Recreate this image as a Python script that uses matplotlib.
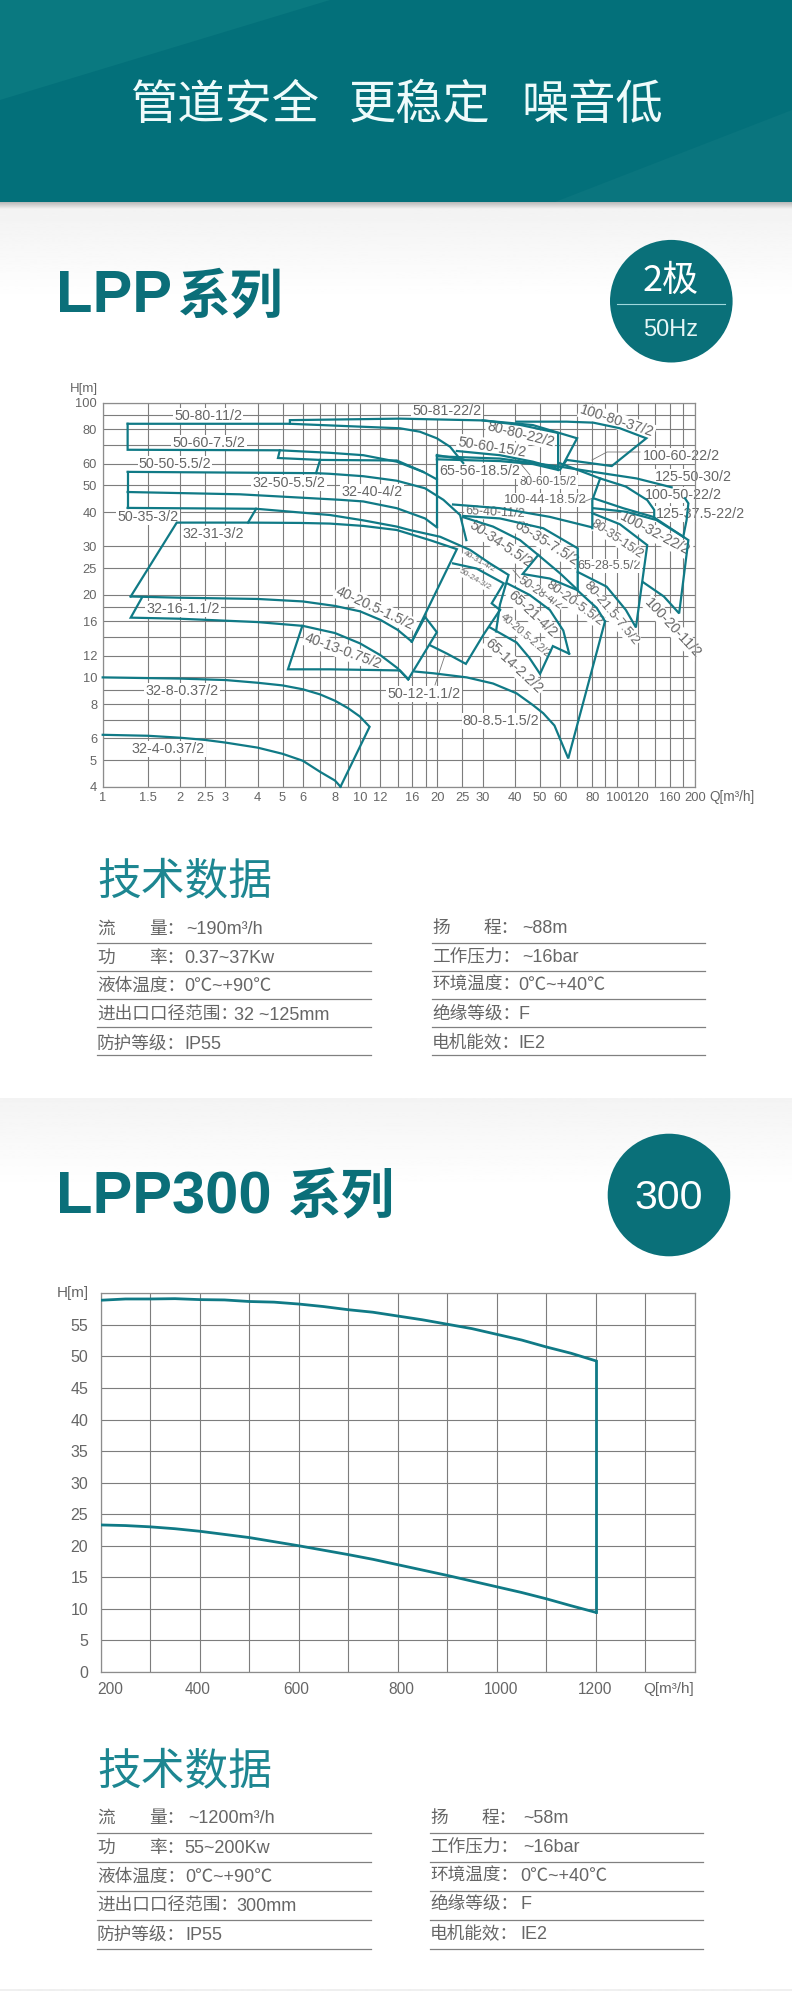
import numpy as np
import matplotlib
matplotlib.use("Agg")
import matplotlib.pyplot as plt
from matplotlib.patches import Circle, Polygon
from matplotlib.ticker import NullLocator
from matplotlib.transforms import ScaledTranslation

plt.rcParams['font.family'] = ['Liberation Sans', 'Noto Sans CJK SC', 'DejaVu Sans']

TEAL = '#107a86'
GRID = '#7d7d7d'
TEXT = '#666666'
CJK = ['Noto Sans CJK SC', 'Liberation Sans']

# first chart, log axes
q_grid = [1, 1.5, 2, 2.5, 3, 4, 5, 6, 7, 8, 9, 10, 12, 14, 16, 18, 20, 25, 30, 40, 50, 60, 70, 80, 90,
          100, 120, 140, 160, 180, 200]
q_ticks = [1, 1.5, 2, 2.5, 3, 4, 5, 6, 8, 10, 12, 16, 20, 25, 30, 40, 50, 60, 80, 100, 120, 160, 200]
h_grid = [4, 5, 6, 7, 8, 9, 10, 12, 14, 16, 18, 20, 25, 30, 40, 50, 60, 70, 80, 90, 100]
h_ticks = [4, 5, 6, 8, 10, 12, 16, 20, 25, 30, 40, 50, 60, 80, 100]

q_a1 = [1.25, 5.34, 14.3, 17.1, 19.9, 22.4, 25.2]
h_a1 = [83.8, 83.8, 80.7, 78.4, 74.2, 69.1, 60.3]
q_a2 = [1.25, 1.25, 4.88, 7.65, 10.3, 13.9, 17.6, 19.9]
h_a2 = [83.8, 67.4, 67.1, 65.7, 64.4, 61, 56, 52.6]
q_a3 = [4.88, 4.8, 7, 13.9, 17.6]
h_a3 = [67.1, 62.9, 61.9, 61.6, 56]
q_a4 = [7, 6.75]
h_a4 = [61.9, 55.4]
q_b1 = [1.25, 6.75, 7.65, 10.3, 13.9, 17.9, 21.1, 24.5, 25.9]
h_b1 = [56, 55.4, 55.1, 54, 52, 48.8, 44.3, 39, 31.6]
q_b2 = [1.25, 1.25]
h_b2 = [56, 41.4]
q_b3 = [19.9, 19.9]
h_b3 = [64.4, 35.2]
q_b4 = [1.25, 3.41, 8.4, 10.3, 13.9, 17.9, 19.9]
h_b4 = [47.3, 46.4, 44.3, 43.7, 41.3, 37.9, 35.2]
q_b5 = [1.25, 3.95, 7.65, 10.3, 13.9, 15.6, 20.5, 26.8, 32, 37.8, 35, 33.8]
h_b5 = [41.4, 41.1, 39, 37.3, 35.4, 34.4, 32.5, 29.1, 26, 23.6, 18.4, 14.7]
q_c1 = [1.285, 1.94, 3.67, 5.85, 7.65, 10.3, 13.9, 18.7, 23.8, 15.9]
h_c1 = [19.7, 36.6, 36.6, 36.5, 36.3, 35.6, 34.4, 31.6, 29.3, 13.5]
q_c2 = [3.67, 3.95]
h_c2 = [36.6, 41.1]
q_d1 = [1.285, 2, 4, 6, 8, 10, 12, 14, 15.9]
h_d1 = [19.7, 19.5, 19.3, 18.9, 18.2, 17.4, 16.2, 14.9, 13.5]
q_d2 = [1.42, 1.285, 2, 4, 6, 8, 10, 12, 14, 15.4]
h_d2 = [19.5, 16.5, 16.35, 15.9, 15.4, 14.5, 13.3, 12.05, 10.8, 9.84]
q_d3 = [5.97, 5.25, 7.65, 14.3, 15.4]
h_d3 = [15.4, 10.7, 10.7, 10.6, 9.84]
q_e1 = [1, 2, 3, 4, 5, 6, 7, 8, 9, 10, 10.9, 8.4]
h_e1 = [10, 9.9, 9.78, 9.56, 9.35, 9.05, 8.67, 8.22, 7.72, 7.2, 6.61, 4]
q_e2 = [1, 1.5, 2, 2.5, 3, 4, 5, 6, 7, 8, 8.4]
h_e2 = [6.18, 6.13, 6.03, 5.92, 5.79, 5.55, 5.27, 4.97, 4.53, 4.21, 4]
q_f1 = [15.9, 17.9, 19.9, 15.4]
h_f1 = [13.5, 16.6, 14.6, 9.84]
q_f2 = [18.7, 21.8, 25.8, 30.2, 35]
h_f2 = [13.1, 12.2, 11.2, 14.3, 17.6]
q_g1 = [16.4, 19.3, 26, 32.9, 40.6, 47, 51.6, 57, 61, 64.5, 89.6]
h_g1 = [10.5, 10.35, 10, 9.5, 8.75, 7.93, 7.4, 6.68, 5.74, 5.07, 16]
q_g2 = [32, 40.6, 45.5, 50.1, 56.2, 65]
h_g2 = [15.2, 13.4, 11.8, 10.3, 13, 12.2]
q_g3 = [37.3, 45.7, 54.7, 61.7, 65]
h_g3 = [22, 19.95, 17.6, 14.8, 12.2]
q_g4 = [23, 28.4, 36.2, 32.5, 35]
h_g4 = [26, 24.9, 22, 18.6, 17.6]
q_h1 = [25.2, 32.9, 41.9, 49.3, 60, 70.2]
h_h1 = [38.3, 35.4, 31.6, 27.9, 23.9, 20.8]
q_h2 = [49.3, 42.9, 54.7, 69.8, 83.2, 89.6]
h_h2 = [27.9, 23.8, 22.9, 20.8, 17.9, 16]
q_h3 = [25.2, 35, 51.6, 70.2, 70.2]
h_h3 = [38.7, 37.9, 34.9, 29.5, 20.8]
q_h4 = [23, 35, 54.7, 79.6]
h_h4 = [42.6, 41.3, 38.4, 35.2]
q_i1 = [70.2, 90.9, 108, 118.2, 130.8, 102.4, 80]
h_i1 = [24.2, 21.4, 17.6, 15.2, 30.3, 36.1, 39.6]
q_i2 = [85.8, 80, 80]
h_i2 = [53, 44.2, 34.9]
q_i3 = [59.9, 85.8, 108, 130.8, 139.2, 139.2]
h_i3 = [60.2, 53, 49.5, 44.2, 40.7, 38.4]
q_i4 = [80.7, 105.5, 138, 189, 174, 151.8, 126.1]
h_i4 = [44.9, 41.3, 38.4, 31.6, 17.1, 19.7, 22.2]
q_i5 = [80.7, 108, 142, 180.5]
h_i5 = [41.3, 40.1, 37.4, 32.5]
q_i6 = [59.9, 80.7, 118.9, 162.7]
h_i6 = [58.5, 56, 53, 49.2]
q_i7 = [183.3, 189, 186, 180.5]
h_i7 = [44.9, 43, 37.4, 32.5]
q_j1 = [40.6, 63.6, 80.7, 102.4, 129.7, 95.2, 63.6, 59.9]
h_j1 = [85.3, 85.3, 84.6, 80.7, 74.2, 58.8, 61.9, 57]
q_j2 = [30, 47, 69.8, 61]
h_j2 = [86.2, 82.9, 74.2, 58.5]
q_j3 = [5.34, 5.34, 14.3, 30, 41.9, 58.9, 58.9]
h_j3 = [83.8, 86.4, 87.5, 86.2, 83, 77.6, 56.9]
q_j4 = [19.9, 35, 47, 58.9]
h_j4 = [62.2, 61.3, 59.8, 56.9]
q_j5 = [19.9, 25.2]
h_j5 = [64.4, 62.2]
q_j6 = [23.8, 35, 47, 58]
h_j6 = [66.7, 64.4, 61, 57.7]
q_j7 = [19.9, 35, 59.9]
h_j7 = [63.8, 62.6, 58.5]

curves_a = [(q_a1, h_a1), (q_a2, h_a2), (q_a3, h_a3), (q_a4, h_a4), (q_b1, h_b1), (q_b2, h_b2), (q_b3, h_b3),
            (q_b4, h_b4), (q_b5, h_b5), (q_c1, h_c1), (q_c2, h_c2), (q_d1, h_d1), (q_d2, h_d2), (q_d3, h_d3),
            (q_e1, h_e1), (q_e2, h_e2), (q_f1, h_f1), (q_f2, h_f2), (q_g1, h_g1), (q_g2, h_g2), (q_g3, h_g3),
            (q_g4, h_g4), (q_h1, h_h1), (q_h2, h_h2), (q_h3, h_h3), (q_h4, h_h4), (q_i1, h_i1), (q_i2, h_i2),
            (q_i3, h_i3), (q_i4, h_i4), (q_i5, h_i5), (q_i6, h_i6), (q_i7, h_i7), (q_j1, h_j1), (q_j2, h_j2),
            (q_j3, h_j3), (q_j4, h_j4), (q_j5, h_j5), (q_j6, h_j6), (q_j7, h_j7)]

# pump labels: text, x px, y px, rotation, size
pump_labels = [
    ('50-80-11/2', 208, 416, 0, 10.3), ('50-60-7.5/2', 209, 443, 0, 10.3), ('50-50-5.5/2', 175, 464, 0, 10.3),
    ('32-50-5.5/2', 289, 483, 0, 10.3), ('32-40-4/2', 372, 492, 0, 10.3), ('50-35-3/2', 148, 517, 0, 10.3),
    ('32-31-3/2', 213, 534, 0, 10.3), ('32-16-1.1/2', 183, 609, 0, 10.3), ('32-8-0.37/2', 182, 691, 0, 10.3),
    ('32-4-0.37/2', 168, 749, 0, 10.3), ('40-13-0.75/2', 343, 651, -20, 10.3),
    ('40-20.5-1.5/2', 375, 608, -25, 10.3), ('50-12-1.1/2', 424, 694, 0, 10.3), ('80-8.5-1.5/2', 501, 721, 0, 10.3),
    ('65-14-2.2/2', 514, 666, -43, 10.3), ('40-20.5-2.2/2', 525, 636, -40, 7.5), ('65-21-4/2', 532, 614, -43, 10.3),
    ('50-28-4/2', 540, 593, -33, 8.5), ('80-20-5.5/2', 575, 604, -36, 9.5), ('80-21.5-7.5/2', 611, 613, -50, 9.5),
    ('100-20-11/2', 673, 628, -47, 10.3), ('65-28-5.5/2', 609, 566, 0, 9), ('100-32-22/2', 655, 534, -28, 10.3),
    ('80-35-15/2', 617, 539, -34, 9), ('65-35-7.5/2', 546, 543, -32, 10.3), ('50-34-5.5/2', 501, 544, -34, 10.3),
    ('40-31-4/2', 479, 562, -30, 6), ('50-24-3/2', 475, 580, -30, 6), ('65-40-11/2', 495, 513, -3, 9),
    ('100-44-18.5/2', 545, 500, 0, 9.5), ('80-60-15/2', 548, 482, 0, 8.5), ('65-56-18.5/2', 480, 471, 0, 10.3),
    ('50-60-15/2', 492, 447, -9, 10.3), ('80-80-22/2', 521, 434, -14, 10.3), ('50-81-22/2', 447, 411, 0, 10.3),
    ('100-80-37/2', 617, 421, -18, 10.3), ('100-60-22/2', 681, 456, 0, 10.3), ('125-50-30/2', 693, 477, 0, 10.3),
    ('100-50-22/2', 683, 495, 0, 10.3), ('125-37.5-22/2', 700, 514, 0, 10.3),
]
leaders = [
    ([592, 607, 640], [460, 452, 452]),
    ([520, 530], [463, 475]),
    ([583, 593], [502, 498]),
    ([445, 435], [655, 685]),
    ([513, 520], [570, 578]),
]

# second chart
q_300 = [200, 250, 300, 350, 400, 450, 500, 550, 600, 650, 700, 750, 800, 850, 900, 950, 1000, 1050, 1100, 1150, 1200]
h_300_top = [58.9, 59.1, 59.1, 59.15, 59, 58.95, 58.7, 58.6, 58.3, 57.9, 57.4, 57, 56.4, 55.8, 55.1, 54.4, 53.5,
             52.6, 51.5, 50.5, 49.3]
h_300_low = [23.3, 23.2, 23, 22.7, 22.3, 21.8, 21.3, 20.65, 20, 19.3, 18.6, 17.85, 17, 16.15, 15.3, 14.4, 13.5,
             12.6, 11.6, 10.5, 9.45]
q_300_grid = [200, 300, 400, 500, 600, 700, 800, 900, 1000, 1100, 1200, 1300, 1400]
q_300_ticks = [200, 400, 600, 800, 1000, 1200]
q_300_shift = [9, -2, -3, 4, 4, -1]
h_300_grid = [0, 5, 10, 15, 20, 25, 30, 35, 40, 45, 50, 55, 60]
h_300_ticks = [0, 5, 10, 15, 20, 25, 30, 35, 40, 45, 50, 55]

spec_left_1 = ['~190m³/h', '0.37~37Kw', '0℃~+90℃', '32 ~125mm', 'IP55']
spec_right_1 = ['~88m', '~16bar', '0℃~+40℃', 'F', 'IE2']
spec_left_2 = ['~1200m³/h', '55~200Kw', '0℃~+90℃', '300mm', 'IP55']
spec_right_2 = ['~58m', '~16bar', '0℃~+40℃', 'F', 'IE2']
names_left = ['流', '功', '液体温度：', '进出口口径范围：', '防护等级：']
names_left_b = ['量：', '率：', '', '', '']
names_right = ['扬', '工作压力：', '环境温度：', '绝缘等级：', '电机能效：']
names_right_b = ['程：', '', '', '', '']

fig = plt.figure(figsize=(7.92, 19.91), dpi=100)
W, H = 792, 1991

bg = fig.add_axes([0, 0, 1, 1])
bg.set_axis_off()


def vgrad(y0, y1, c0, c1):
    g = np.linspace(c0, c1, 64).reshape(-1, 1)
    bg.imshow(g, extent=[0, W, y1, y0], cmap='gray', vmin=0, vmax=1, aspect='auto', zorder=0)


vgrad(202, 209, 0.72, 0.95)
vgrad(209, 300, 0.95, 1.0)
vgrad(1098, 1190, 0.955, 1.0)
vgrad(1989, 1991, 0.94, 0.94)
bg.set_xlim(0, W)
bg.set_ylim(H, 0)

bg.add_patch(Polygon([[0, 0], [W, 0], [W, 202], [0, 202]], fc='#03707a', ec='none', zorder=1))
bg.add_patch(Polygon([[0, 0], [330, 0], [0, 100]], fc='#0a7980', ec='none', zorder=1))
bg.add_patch(Polygon([[555, 202], [W, 110], [W, 202]], fc='#0a757e', ec='none', zorder=1))


def put(x, y, s, size, color=TEXT, ha='left', weight='normal', family=None):
    bg.text(x, y, s, fontsize=size, color=color, ha=ha, va='center', weight=weight,
            family=family if family else plt.rcParams['font.family'], zorder=3)


for x, s in [(225, '管道安全'), (420, '更稳定'), (592, '噪音低')]:
    put(x, 106, s, 34, color='#eefbfb', ha='center', family=CJK)

put(56, 297, 'LPP', 43, color='#0b6f79', weight='bold')
put(178, 297, '系列', 38, color='#0b6f79', weight='bold', family=CJK)
put(56, 1198, 'LPP300', 43, color='#0b6f79', weight='bold')
put(288, 1198, '系列', 38.5, color='#0b6f79', weight='bold', family=CJK)

for cx, cy in [(671.3, 301.2), (669, 1195)]:
    bg.add_patch(Circle((cx, cy), 61.3, fc='#0a7079', ec='none', zorder=2))
put(671, 281, '2极', 26, color='white', ha='center', family=CJK)
put(671, 330, '50Hz', 17, color='#e6f6f6', ha='center')
bg.plot([617, 725], [304.3, 304.3], color='#9fd8dc', lw=0.8, zorder=3)
put(669, 1198, '300', 29.5, color='white', ha='center')


def spec_table(title_y, ys_left, ys_right, line_ys, vals_l, vals_r, xs_l, xs_r, rx0, rx1):
    put(97, title_y, '技术数据', 31.5, color='#1d8691', family=CJK)
    for i in range(5):
        bg.plot([97, 370.5], [line_ys[i], line_ys[i]], color='#808080', lw=0.9, zorder=3)
        bg.plot([rx0, rx1], [line_ys[i], line_ys[i]], color='#808080', lw=0.9, zorder=3)
        put(97, ys_left[i] + 1, names_left[i], 12.7, family=CJK)
        put(149, ys_left[i] + 1, names_left_b[i], 12.7, family=CJK)
        put(rx0, ys_right[i] + 1, names_right[i], 12.7, family=CJK)
        put(rx0 + 52, ys_right[i] + 1, names_right_b[i], 12.7, family=CJK)
        put(xs_l[i], ys_left[i] + 1.5, vals_l[i], 13)
        put(xs_r[i], ys_right[i] + 1.5, vals_r[i], 13)


spec_table(882, [928, 957, 985, 1014, 1043], [927, 956, 984, 1013, 1042], [943.3, 971.3, 999.3, 1027.3, 1055.3],
           spec_left_1, spec_right_1, [186, 184, 184, 234, 184], [522, 522, 518, 518, 518], 432, 705)
spec_table(1772, [1817, 1847, 1876, 1905, 1934], [1817, 1846, 1875, 1903, 1933],
           [1832.7, 1861.7, 1891, 1920.3, 1949.3],
           spec_left_2, spec_right_2, [188, 184, 185, 236, 185], [523, 523, 520, 520, 520], 430, 703)


def px_axes(x0, x1, y0, y1):
    return fig.add_axes([x0 / W, 1 - y1 / H, (x1 - x0) / W, (y1 - y0) / H])


def style(ax):
    ax.set_axisbelow(True)
    ax.grid(True, color=GRID, lw=0.8, zorder=1)
    ax.tick_params(length=0, labelcolor=TEXT)
    ax.xaxis.set_minor_locator(NullLocator())
    ax.yaxis.set_minor_locator(NullLocator())
    for s in ax.spines.values():
        s.set_color('#8c8c8c')
        s.set_linewidth(0.9)


ax1 = px_axes(102.7, 694.7, 402.7, 786.7)
ax1.set_xscale('log')
ax1.set_yscale('log')
ax1.set_xlim(1, 200)
ax1.set_ylim(4, 100)
for v in q_grid:
    ax1.axvline(v, color=GRID, lw=0.8, zorder=1)
for v in h_grid:
    ax1.axhline(v, color=GRID, lw=0.8, zorder=1)
ax1.set_xticks(q_ticks)
ax1.set_xticklabels([str(v) for v in q_ticks], fontsize=9.3)
ax1.set_yticks(h_ticks)
ax1.set_yticklabels([str(v) for v in h_ticks], fontsize=9.3)
ax1.xaxis.set_minor_locator(NullLocator())
ax1.yaxis.set_minor_locator(NullLocator())
ax1.tick_params(length=0, labelcolor=TEXT, pad=4)
for s in ax1.spines.values():
    s.set_color('#8c8c8c')
    s.set_linewidth(0.9)

for q, h in curves_a:
    ax1.plot(q, h, color=TEAL, lw=1.6, zorder=4, solid_joinstyle='miter', clip_on=False)

for xs, ys in leaders:
    ax1.plot(xs, ys, color='#777777', lw=0.6, transform=bg.transData, zorder=3, scalex=False, scaley=False)

for s, x, y, rot, size in pump_labels:
    ax1.text(x, y, s, fontsize=size, color=TEXT, rotation=rot, rotation_mode='anchor', ha='center', va='center',
             transform=bg.transData, zorder=2, bbox=dict(boxstyle='square,pad=0.08', fc='white', ec='none'))

ax1.text(84, 389, 'H[m]', fontsize=9.5, color=TEXT, ha='center', va='center', transform=bg.transData)
ax1.text(732, 796.5, 'Q[m³/h]', fontsize=9.8, color=TEXT, ha='center', va='center', transform=bg.transData)

ax2 = px_axes(100.7, 694.8, 1293.3, 1672)
ax2.set_xlim(200, 1400)
ax2.set_ylim(0, 60)
ax2.set_xticks(q_300_grid)
ax2.set_xticklabels([str(v) if v in q_300_ticks else '' for v in q_300_grid], fontsize=11.2)
ax2.set_yticks(h_300_grid)
ax2.set_yticklabels([str(v) if v in h_300_ticks else '' for v in h_300_grid], fontsize=11.5)
style(ax2)
ax2.tick_params(axis='x', pad=7)
ax2.tick_params(axis='y', pad=9)
ax2.plot(q_300, h_300_top, color=TEAL, lw=2, zorder=4)
ax2.plot(q_300, h_300_low, color=TEAL, lw=2, zorder=4)
ax2.plot([q_300[-1], q_300[-1]], [h_300_top[-1], h_300_low[-1]], color=TEAL, lw=2, zorder=4)
shift = dict(zip(q_300_ticks, q_300_shift))
for v, lab in zip(q_300_grid, ax2.get_xticklabels()):
    if v in shift:
        lab.set_transform(lab.get_transform() + ScaledTranslation(shift[v] / 100, 0, fig.dpi_scale_trans))
ax2.text(72.5, 1293, 'H[m]', fontsize=11, color=TEXT, ha='center', va='center', transform=bg.transData)
ax2.text(669, 1689, 'Q[m³/h]', fontsize=11, color=TEXT, ha='center', va='center', transform=bg.transData)

fig.savefig('out.png', dpi=100)
